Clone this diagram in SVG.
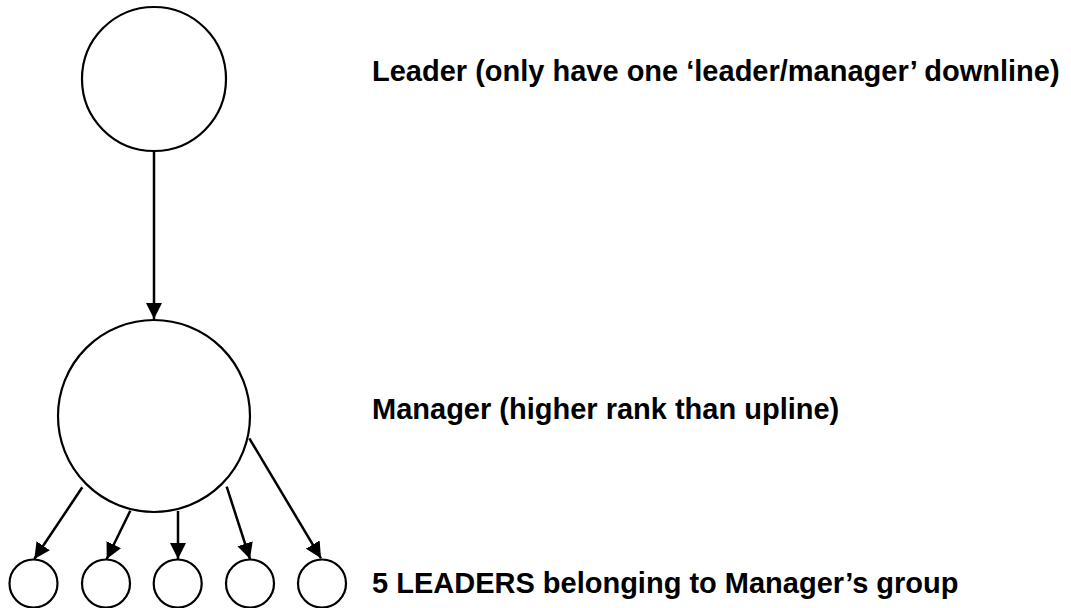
<svg xmlns="http://www.w3.org/2000/svg" width="1071" height="608" viewBox="0 0 1071 608">
<style>
.node{fill:#fff;stroke:#000;stroke-width:2.2}
.edge{stroke:#000;stroke-width:2.5;fill:none;marker-end:url(#arr)}
.lbl{font-family:"Liberation Sans",Arial,sans-serif;font-weight:bold;font-size:29px;fill:#000}
</style>
<defs>
<marker id="arr" markerUnits="userSpaceOnUse" markerWidth="17" markerHeight="17" viewBox="0 0 17 17" refX="16" refY="8.5" orient="auto">
<path d="M0,0.5 L16,8.5 L0,16.5 z" fill="#000"/>
</marker>
</defs>
<rect width="1071" height="608" fill="#fff"/>
<g id="connectors">
<line class="edge" x1="154" y1="151" x2="154" y2="319"/>
<line class="edge" x1="82.3" y1="487.3" x2="34.3" y2="559"/>
<line class="edge" x1="130.3" y1="510.7" x2="106.7" y2="559"/>
<line class="edge" x1="178" y1="511" x2="178" y2="559"/>
<line class="edge" x1="226.7" y1="486.7" x2="250" y2="559"/>
<line class="edge" x1="249.3" y1="438.3" x2="321" y2="558.3"/>
</g>
<g id="leader"><circle class="node" cx="154" cy="79" r="72"/></g>
<g id="manager"><circle class="node" cx="154" cy="416" r="96"/></g>
<g id="leader1"><circle class="node" cx="33.5" cy="583.5" r="24"/></g>
<g id="leader2"><circle class="node" cx="106" cy="583.5" r="24"/></g>
<g id="leader3"><circle class="node" cx="177.7" cy="583.5" r="24"/></g>
<g id="leader4"><circle class="node" cx="250" cy="583.5" r="24"/></g>
<g id="leader5"><circle class="node" cx="322" cy="583.5" r="24"/></g>
<g id="labels">
<text class="lbl" x="372" y="81">Leader (only have one ‘leader/manager’ downline)</text>
<text class="lbl" x="372" y="419">Manager (higher rank than upline)</text>
<text class="lbl" x="372" y="593">5 LEADERS belonging to Manager’s group</text>
</g>
</svg>
